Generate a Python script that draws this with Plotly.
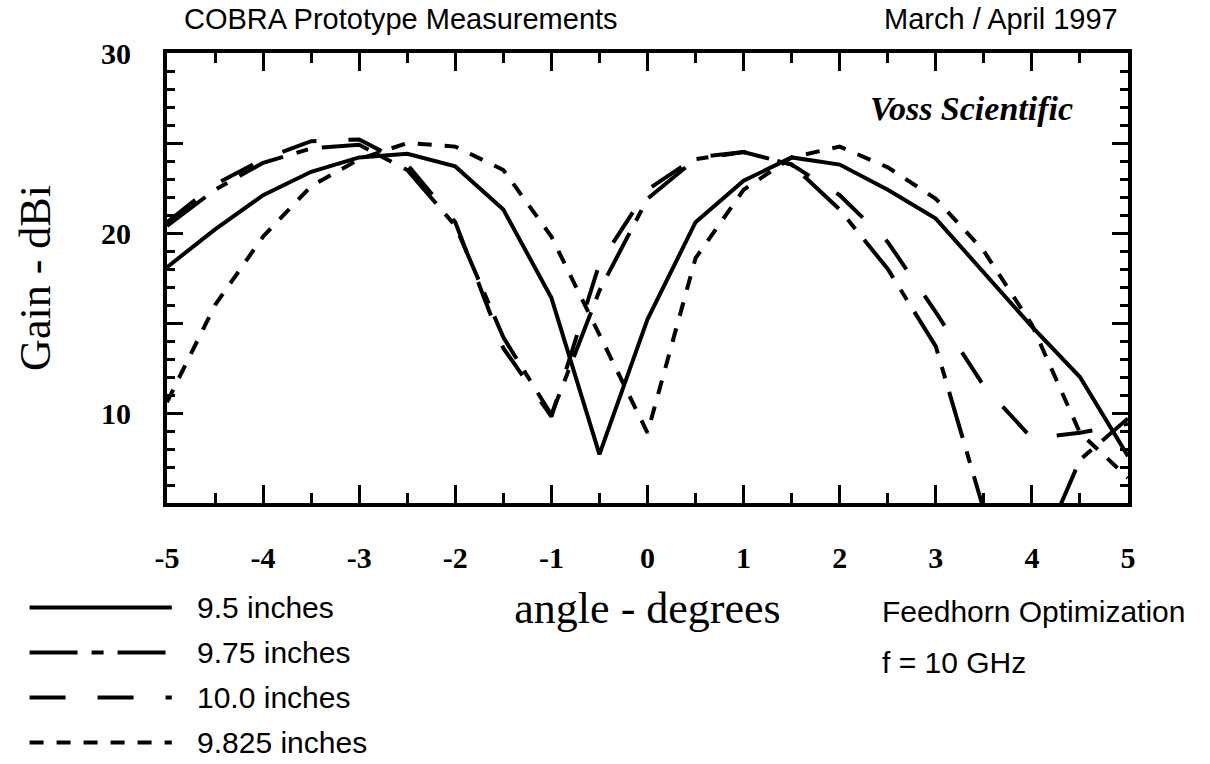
import plotly.graph_objects as go

# ---- data ----
angles = [-5, -4.5, -4, -3.5, -3, -2.5, -2, -1.5, -1, -0.5, 0,
          0.5, 1, 1.5, 2, 2.5, 3, 3.5, 4, 4.5, 5]
gain_9_5 = [18.1, 20.2, 22.1, 23.4, 24.2, 24.4, 23.7, 21.3, 16.4, 7.7, 15.2,
            20.6, 22.9, 24.2, 23.8, 22.4, 20.8, 17.8, 14.8, 12.0, 7.6]
gain_9_75 = [20.4, 22.4, 23.9, 24.7, 24.9, 23.5, 20.4, 14.2, 9.9, 16.8, 21.9,
             24.1, 24.5, 23.8, 21.3, 18.0, 13.7, 4.6, 1.2, 7.4, 9.7]
gain_10_0 = [20.6, 22.7, 24.1, 25.1, 25.2, 23.8, 20.6, 13.6, 9.8, 18.3, 22.4,
             24.2, 24.5, 23.8, 22.1, 19.5, 15.6, 11.5, 8.6, 8.9, 9.4]
gain_9_825 = [10.6, 16.0, 19.8, 22.6, 24.1, 25.0, 24.8, 23.5, 19.8, 14.3, 8.9,
              18.6, 22.4, 24.2, 24.8, 23.65, 21.9, 19.0, 14.9, 8.9, 6.4]

series_names = ["9.5 inches", "9.75 inches", "10.0 inches", "9.825 inches"]
series_values = [gain_9_5, gain_9_75, gain_10_0, gain_9_825]

x_tick_vals = [-5, -4, -3, -2, -1, 0, 1, 2, 3, 4, 5]
x_tick_text = ["-5", "-4", "-3", "-2", "-1", "0", "1", "2", "3", "4", "5"]
y_tick_vals = [10, 15, 20, 25, 30]
y_tick_text = ["10", "", "20", "", "30"]

# ---- styles ----
dash_styles = ["solid", "48px,14px,12px,14px", "36px,32px", "14px,13px"]
LINE_W = 4
SANS = "Liberation Sans"
SERIF = "Liberation Serif"

fig = go.Figure()
for name, vals, dash in zip(series_names, series_values, dash_styles):
    fig.add_trace(go.Scatter(
        x=angles, y=vals, mode="lines", name=name,
        line=dict(color="black", width=LINE_W, dash=dash),
        showlegend=False,
    ))

# manual legend (long line samples, bottom-left)
leg_rows_y = [-0.232, -0.332, -0.432, -0.532]
for name, dash, yy in zip(series_names, dash_styles, leg_rows_y):
    fig.add_shape(type="line", xref="paper", yref="paper",
                  x0=-0.143, x1=0.005, y0=yy, y1=yy,
                  line=dict(color="black", width=LINE_W, dash=dash))
    fig.add_annotation(text=name, xref="paper", yref="paper",
                       x=0.029, y=yy, xanchor="left", yanchor="middle",
                       showarrow=False,
                       font=dict(family=SANS, size=30, color="black"))

fig.add_annotation(text="COBRA Prototype Measurements", xref="paper", yref="paper",
                   x=0.016, y=1.075, xanchor="left", yanchor="middle",
                   showarrow=False, font=dict(family=SANS, size=29, color="black"))
fig.add_annotation(text="March / April 1997", xref="paper", yref="paper",
                   x=0.992, y=1.075, xanchor="right", yanchor="middle",
                   showarrow=False, font=dict(family=SANS, size=29, color="black"))
fig.add_annotation(text="Voss Scientific", xref="paper", yref="paper",
                   x=0.945, y=0.876, xanchor="right", yanchor="middle",
                   showarrow=False,
                   font=dict(family=SERIF, size=34, color="black",
                             style="italic", weight="bold"))
fig.add_annotation(text="Feedhorn Optimization", xref="paper", yref="paper",
                   x=0.742, y=-0.24, xanchor="left", yanchor="middle",
                   showarrow=False, font=dict(family=SANS, size=30, color="black"))
fig.add_annotation(text="f = 10 GHz", xref="paper", yref="paper",
                   x=0.742, y=-0.355, xanchor="left", yanchor="middle",
                   showarrow=False, font=dict(family=SANS, size=30, color="black"))

fig.update_xaxes(
    range=[-5, 5], tickmode="array", tickvals=x_tick_vals, ticktext=x_tick_text,
    ticks="inside", ticklen=18, tickwidth=3, tickcolor="black",
    showline=True, linewidth=4, linecolor="black", mirror="ticks",
    showgrid=False, zeroline=False,
    minor=dict(dtick=0.5, ticks="inside", ticklen=10, tickwidth=3,
               tickcolor="black", showgrid=False),
    tickfont=dict(family=SERIF, size=30, color="black", weight="bold"),
    ticklabelstandoff=25,
    title=dict(text="angle - degrees", standoff=20,
               font=dict(family=SERIF, size=44, color="black")),
)
fig.update_yaxes(
    range=[5, 30], tickmode="array", tickvals=y_tick_vals, ticktext=y_tick_text,
    ticks="inside", ticklen=16, tickwidth=3, tickcolor="black",
    showline=True, linewidth=4, linecolor="black", mirror="ticks",
    showgrid=False, zeroline=False,
    minor=dict(dtick=1, ticks="inside", ticklen=8, tickwidth=3,
               tickcolor="black", showgrid=False),
    tickfont=dict(family=SERIF, size=30, color="black", weight="bold"),
    ticklabelstandoff=26,
    title=dict(text="Gain - dBi", standoff=38,
               font=dict(family=SERIF, size=44, color="black")),
)

fig.update_layout(
    width=1210, height=764,
    margin=dict(l=167, r=82, t=53, b=261),
    plot_bgcolor="white", paper_bgcolor="white",
    showlegend=False,
)

fig.write_html("out.html")
